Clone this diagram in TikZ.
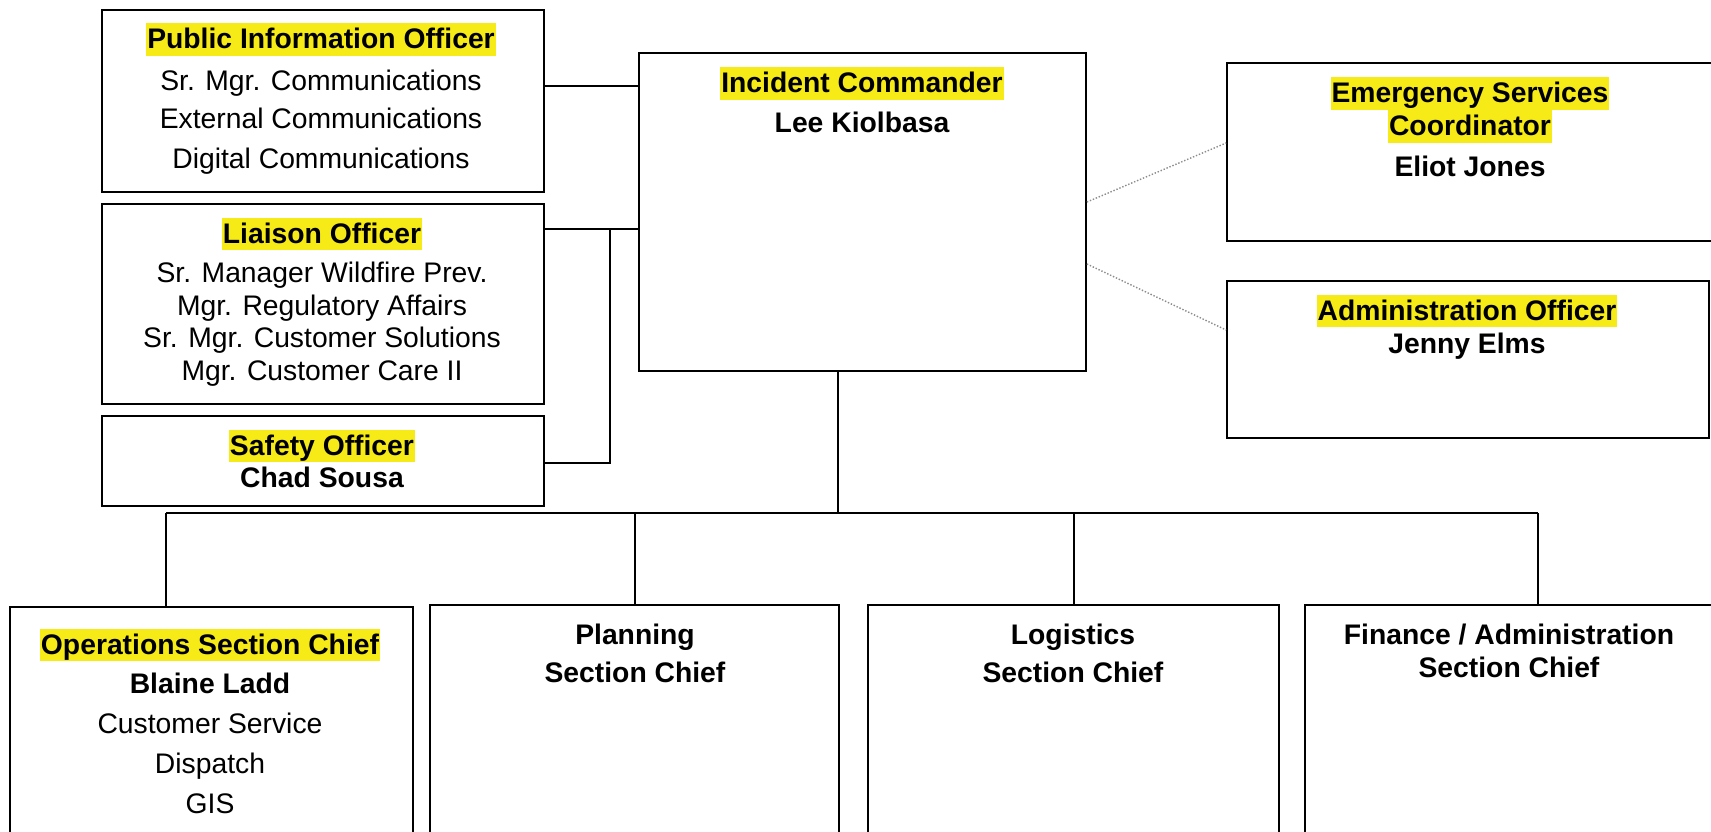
\documentclass[tikz,border=0pt]{standalone}
\usepackage{fontspec}
\setmainfont{Liberation Sans}
\definecolor{hly}{RGB}{246,235,22}
\newcommand\fsz{\fontsize{28.3pt}{34pt}\selectfont}
\begin{document}
\begin{tikzpicture}[x=1pt,y=-1pt,
  every node/.style={inner sep=0pt,font=\fsz},
  box/.style={draw,line width=1.8pt,inner sep=0pt},
  hl/.style={fill=hly,font=\fsz\bfseries,text height=25.5pt,text depth=7pt,inner xsep=1pt,inner ysep=0pt,anchor=base},
  bt/.style={font=\fsz\bfseries,anchor=base},
  rt/.style={anchor=base},
  conn/.style={line width=1.6pt},
  dotc/.style={line width=1.4pt,gray!90,dash pattern=on 1.4pt off 1.8pt}]
\useasboundingbox (0,0) rectangle (1711,832);
\fill[white] (0,0) rectangle (1711,832);
\clip (0,0) rectangle (1711,832);

% boxes
\node[box,minimum width=442pt,minimum height=182pt] (pio) at (323,101) {};
\node[box,minimum width=442pt,minimum height=200pt] (lia) at (323,304) {};
\node[box,minimum width=442pt,minimum height=90pt] (saf) at (323,461) {};
\node[box,minimum width=447pt,minimum height=318pt] (ic) at (862.5,212) {};
\node[box,minimum width=487pt,minimum height=178pt] (esc) at (1470.5,152) {};
\node[box,minimum width=482pt,minimum height=157pt] (adm) at (1468,359.5) {};
\node[box,minimum width=403pt,minimum height=253pt] (ops) at (211.5,733.5) {};
\node[box,minimum width=409pt,minimum height=255pt] (plan) at (634.5,732.5) {};
\node[box,minimum width=411pt,minimum height=255pt] (log) at (1073.5,732.5) {};
\node[box,minimum width=408pt,minimum height=255pt] (fin) at (1509,732.5) {};

% texts
\node[hl] (pioT) at (321,49) {Public Information Officer};
\node[rt] (pio1) at (321,91) {Sr. Mgr. Communications};
\node[rt] (pio2) at (321,129) {External Communications};
\node[rt] (pio3) at (321,168) {Digital Communications};

\node[hl] (liaT) at (322,243) {Liaison Officer};
\node[rt] (lia1) at (322,282) {Sr. Manager Wildfire Prev.};
\node[rt] (lia2) at (322,315) {Mgr. Regulatory Affairs};
\node[rt] (lia3) at (322,347) {Sr. Mgr. Customer Solutions};
\node[rt] (lia4) at (322,380) {Mgr. Customer Care II};

\node[hl] (safT) at (322,455) {Safety Officer};
\node[bt] (saf1) at (322,487) {Chad Sousa};

\node[hl] (icT) at (862,93) {Incident Commander};
\node[bt] (ic1) at (862,133) {Lee Kiolbasa};

\node[hl] (escT) at (1470,103) {Emergency Services};
\node[hl] (escT2) at (1470,136) {Coordinator};
\node[bt] (esc1) at (1470,176) {Eliot Jones};

\node[hl] (admT) at (1467,320) {Administration Officer};
\node[bt] (adm1) at (1467,353) {Jenny Elms};

\node[hl] (opsT) at (210,654) {Operations Section Chief};
\node[bt] (ops1) at (210,693) {Blaine Ladd};
\node[rt] (ops2) at (210,733) {Customer Service};
\node[rt] (ops3) at (210,773) {Dispatch};
\node[rt] (ops4) at (210,813) {GIS};

\node[bt] (planT) at (635,644) {Planning};
\node[bt] (plan1) at (635,682) {Section Chief};
\node[bt] (logT) at (1073,644) {Logistics};
\node[bt] (log1) at (1073,682) {Section Chief};
\node[bt] (finT) at (1509,644) {Finance / Administration};
\node[bt] (fin1) at (1509,677) {Section Chief};

% connectors
\coordinate (jn) at (610,229);
\coordinate (icdrop) at (838,513);
\coordinate (busL) at (166,513);
\coordinate (busR) at (1538,513);
\coordinate (pdrop) at (635,513);
\coordinate (ldrop) at (1074,513);
\draw[conn] (pio.east |- 0,86) -- (ic.west |- 0,86);
\draw[conn] (lia.east |- 0,229) -- (ic.west |- 0,229);
\draw[conn] (saf.east |- 0,463) -| (jn);
\draw[conn] (ic.south -| icdrop) -- (icdrop);
\draw[conn] (busL) -- (busR);
\draw[conn] (busL) -- (ops.north -| busL);
\draw[conn] (pdrop) -- (plan.north -| pdrop);
\draw[conn] (ldrop) -- (log.north -| ldrop);
\draw[conn] (busR) -- (fin.north -| busR);
\draw[dotc] (ic.east |- 0,202) -- (esc.west |- 0,143);
\draw[dotc] (ic.east |- 0,264) -- (adm.west |- 0,330);
\end{tikzpicture}
\end{document}
